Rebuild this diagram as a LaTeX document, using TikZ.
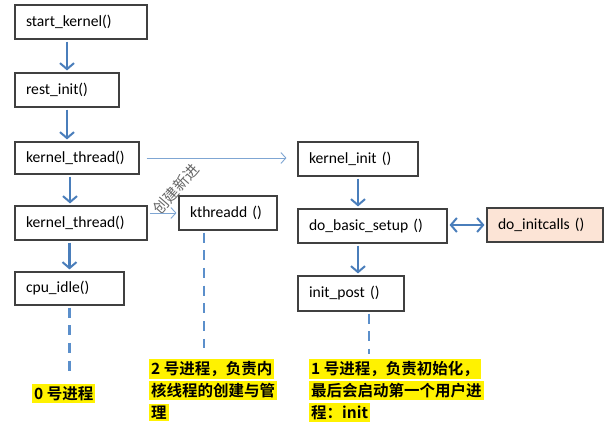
\documentclass[tikz,border=0pt]{standalone}
\usepackage{fontspec}
\setmainfont{Carlito}
\newfontfamily\cjk{Noto Sans CJK SC}[BoldFont={Noto Sans CJK SC Bold}]
\usepackage{xcolor}
\usepackage{tikz}
\usetikzlibrary{arrows.meta,calc}

\definecolor{arrblue}{HTML}{4A7EBB}
\definecolor{dashblue}{HTML}{5B8FCB}
\definecolor{thinblue}{HTML}{7FA6D3}
\definecolor{boxgray}{HTML}{404040}
\definecolor{peach}{HTML}{FCE4D6}
\newcommand{\hlbox}[1]{\colorbox{yellow}{#1}}
\setlength{\fboxsep}{2pt}

\begin{document}
\begin{tikzpicture}[
  x=1pt, y=1pt,
  box/.style={draw=boxgray, line width=1.1pt, inner xsep=11pt, inner ysep=0pt, minimum height=34pt, align=left, font=\fontsize{15.6pt}{18pt}\selectfont},
  callbox/.style={box, fill=peach},
  arr/.style={-{Straight Barb[length=6pt, width=14pt, line width=2pt]}, line width=2.6pt, draw=arrblue, shorten <=2pt, shorten >=2pt},
  dblarr/.style={arr, {Straight Barb[length=6pt, width=14pt, line width=2pt]}-{Straight Barb[length=6pt, width=14pt, line width=2pt]}},
  thinarr/.style={-{Straight Barb[length=5pt, width=11pt]}, line width=0.9pt, draw=thinblue},
  pline/.style={draw=dashblue, line width=2.6pt, dash pattern=on 10pt off 7.7pt, shorten <=2pt},
  note/.style={anchor=north west, inner sep=0pt, align=left, font=\cjk\bfseries\fontsize{15.5pt}{22pt}\selectfont}
]
  \useasboundingbox[fill=white] (0,0) rectangle (607,-433);

  % left column
  \node[box, text width=110pt] (start) at (81,-22) {start\_kernel()};
  \node[box, text width=82pt] (rest) at (67,-90) {rest\_init()};
  \node[box, text width=102pt, minimum height=32pt] (kt1) at (77,-158) {kernel\_thread()};
  \node[box, text width=110pt] (kt2) at (81,-223) {kernel\_thread()};
  \node[box, text width=87pt, minimum height=33pt] (cpu) at (69.5,-288.5) {cpu\_idle()};
  \node[box, text width=76pt] (kthreadd) at (228,-213) {kthreadd ()};

  % right column
  \node[box, text width=98pt] (kinit) at (358,-159) {kernel\_init ()};
  \node[box, text width=127pt] (setup) at (372.5,-226) {do\_basic\_setup ()};
  \node[callbox, text width=94pt] (initcalls) at (545,-225) {do\_initcalls ()};
  \node[box, text width=84pt, minimum height=35pt] (post) at (351,-293.5) {init\_post ()};

  \node[rotate=49, text=black!60, font=\cjk\fontsize{15pt}{15pt}\selectfont] (newproc) at (176,-189) {创建新进};

  % notes
  \node[note] (n0) at (32,-384) {\hlbox{0 号进程}};
  \node[note] (n2) at (149,-359) {\hlbox{2 号进程，负责内}\\\hlbox{核线程的创建与管}\\\hlbox{理}};
  \node[note] (n1) at (309,-359) {\hlbox{1 号进程，负责初始化，}\\\hlbox{最后会启动第一个用户进}\\\hlbox{程：init}};

  \draw[arr] (start.south -| rest.north) -- (rest.north);
  \draw[arr] (rest.south) -- (rest.south |- kt1.north);
  \draw[arr] ([xshift=-7pt]kt1.south) -- ([xshift=-7pt]kt1.south |- kt2.north);
  \draw[arr] (kt2.south -| cpu.north) -- (cpu.north);
  \draw[arr] (kinit.south) -- (kinit.south |- setup.north);
  \draw[arr] (setup.south -| kinit.south) -- (kinit.south |- post.north);
  \draw[dblarr] (setup.east |- initcalls.west) -- (initcalls.west);

  \draw[thinarr, shorten <=7pt, shorten >=11pt] (kt1.east) -- (kt1.east -| kinit.west);
  \draw[thinarr, shorten <=2pt, shorten >=2pt] (kt2.east |- kthreadd.west) -- (kthreadd.west);

  \draw[pline] (cpu.south) -- ($(cpu.south |- n0.north)+(0,13)$);
  \draw[pline] ([xshift=-24pt]kthreadd.south) -- ($([xshift=-24pt]kthreadd.south |- n2.north)+(0,11)$);
  \draw[pline] ([xshift=18pt]post.south) -- ($([xshift=18pt]post.south |- n1.north)+(0,5)$);
\end{tikzpicture}
\end{document}
